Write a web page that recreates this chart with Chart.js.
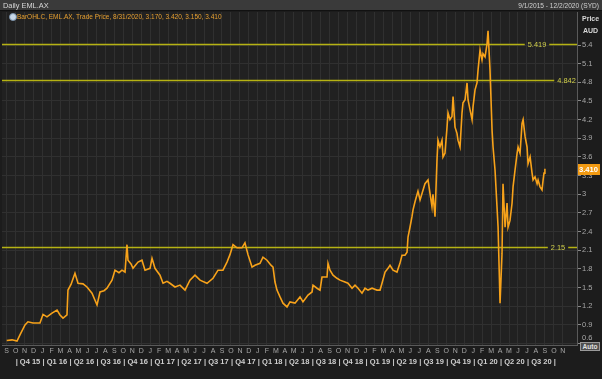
<!DOCTYPE html>
<html><head><meta charset="utf-8">
<script src="https://cdn.jsdelivr.net/npm/chart.js@4/dist/chart.umd.min.js"></script>
<style>
html,body{margin:0;padding:0;background:#1c1c1c;overflow:hidden}
#wrap{position:relative;width:602px;height:379px;font-family:"Liberation Sans",Arial,sans-serif}
#c{position:absolute;left:0;top:0}
#hdr{position:absolute;left:0;top:0;width:602px;height:11px;background:#3a3a3a;border-bottom:1px solid #111;box-sizing:border-box}
#title{position:absolute;left:3px;top:0;font-size:7.4px;line-height:11px;color:#d8d8d8}
#range{position:absolute;right:3px;top:0;font-size:6.6px;line-height:11px;color:#d0d0d0}
#legend{position:absolute;left:17px;top:12px;font-size:6.5px;line-height:10px;color:#e8a030;white-space:nowrap}
#icon{position:absolute;left:9px;top:13px;width:6px;height:6px;border-radius:50%;background:#c8d8e8;border:1px solid #7890a8}
#price{position:absolute;left:582px;top:14px;font-size:7px;font-weight:bold;color:#d8d8d8;line-height:9px}
#aud{position:absolute;left:583px;top:26px;font-size:7px;font-weight:bold;color:#d8d8d8;line-height:9px}
#auto{position:absolute;left:580px;top:342px;width:20px;height:9px;background:#505050;border:1px solid #9a9a9a;box-sizing:border-box;font-size:6.6px;font-weight:bold;color:#e0e0e0;line-height:7px;text-align:center}
</style></head>
<body>
<div id="wrap">
<canvas id="c" width="602" height="379"></canvas>
<div id="hdr"></div>
<div id="title">Daily EML.AX</div>
<div id="range">9/1/2015 - 12/2/2020 (SYD)</div>
<div id="icon"></div>
<div id="legend">BarOHLC, EML.AX, Trade Price, 8/31/2020, 3.170, 3.420, 3.150, 3.410</div>
<div id="price">Price</div>
<div id="aud">AUD</div>
<div id="auto">Auto</div>
</div>
<script>
// months elapsed since 1 Sep 2015
const months = [
 0,0.59,1.15,1.48,2.04,2.37,2.93,3.71,4.05,4.49,5.05,5.61,5.94,6.28,6.72,6.83,7.17,7.61,7.95,8.51,
 8.95,9.51,10.07,10.40,10.85,11.18,11.74,12.07,12.52,12.85,13.19,13.41,13.52,13.86,14.08,14.64,15.08,15.42,15.98,16.20,
 16.53,17.09,17.43,17.87,18.20,18.76,19.32,19.88,20.43,20.99,21.55,22.33,23.00,23.56,24.11,24.56,24.89,25.23,25.67,26.23,
 26.56,26.90,27.35,27.68,28.24,28.57,29.02,29.46,29.69,29.91,30.13,30.47,30.80,31.25,31.58,32.14,32.70,33.03,33.59,34.04,
 34.15,34.59,34.93,35.15,35.71,35.82,36.04,36.38,36.82,37.16,37.71,38.05,38.50,38.83,39.17,39.61,39.95,40.28,40.73,41.28,
 41.62,41.84,42.18,42.51,42.73,43.07,43.51,43.84,44.07,44.40,44.63,44.74,44.96,45.18,45.30,45.52,45.85,46.08,46.63,46.97,
 47.41,47.52,47.75,47.97,48.08,48.30,48.53,48.64,48.86,49.09,49.20,49.42,49.64,49.76,49.98,50.20,50.31,50.54,50.76,50.87,
 51.10,51.32,51.43,51.65,51.88,51.99,52.21,52.43,52.55,52.77,52.99,53.10,53.33,53.55,53.66,53.88,54.11,54.22,54.44,54.66,
 54.78,55.00,55.22,55.33,55.56,55.78,55.89,56.11,56.34,56.45,56.67,56.90,57.01,57.23,57.45,57.57,57.79,58.01,58.12,58.35,
 58.57,58.68,58.90,59.13,59.24,59.46,59.68,59.80,59.90,60.00
];
// EML.AX trade price (AUD)
const closes = [
 0.65,0.66,0.64,0.74,0.90,0.95,0.93,0.93,1.07,1.03,1.09,1.14,1.06,1.01,1.06,1.46,1.55,1.73,1.57,1.56,
 1.51,1.41,1.22,1.43,1.45,1.49,1.62,1.78,1.74,1.78,1.75,2.19,1.94,1.88,1.81,1.91,1.94,1.78,1.81,1.97,
 1.81,1.70,1.57,1.60,1.57,1.51,1.54,1.46,1.62,1.70,1.62,1.57,1.65,1.78,1.78,1.91,2.03,2.19,2.14,2.14,
 2.22,2.03,1.83,1.86,1.89,1.99,1.94,1.86,1.83,1.59,1.46,1.35,1.25,1.19,1.27,1.25,1.35,1.27,1.38,1.43,
 1.54,1.49,1.46,1.67,1.67,1.89,1.78,1.70,1.65,1.62,1.59,1.57,1.49,1.54,1.49,1.41,1.49,1.46,1.49,1.46,
 1.46,1.57,1.75,1.81,1.86,1.78,1.75,1.89,2.02,2.02,2.07,2.31,2.47,2.64,2.75,2.88,3.05,2.91,3.17,3.23,
 2.80,3.00,2.64,3.55,3.87,3.76,3.87,3.60,3.66,4.08,4.31,4.20,4.25,4.57,4.08,3.98,3.87,3.76,4.31,4.47,
 4.52,4.79,4.52,4.36,4.20,4.41,4.68,4.79,5.00,5.32,5.16,5.26,5.21,5.42,5.63,5.00,4.03,3.76,3.39,2.80,
 2.47,1.25,2.05,3.17,2.47,2.86,2.47,2.58,2.86,3.12,3.39,3.66,3.76,3.66,4.14,4.20,3.93,3.76,3.49,3.60,
 3.34,3.23,3.28,3.17,3.23,3.12,3.07,3.23,3.34,3.41
];
const monthTickLabels = ['S','O','N','D','J','F','M','A','M','J','J','A','S','O','N','D','J','F','M','A','M','J','J','A','S','O','N','D','J','F','M','A','M','J','J','A','S','O','N','D','J','F','M','A','M','J','J','A','S','O','N','D','J','F','M','A','M','J','J','A','S','O','N'];
const quarterLabels = ['Q4 15','Q1 16','Q2 16','Q3 16','Q4 16','Q1 17','Q2 17','Q3 17','Q4 17','Q1 18','Q2 18','Q3 18','Q4 18','Q1 19','Q2 19','Q3 19','Q4 19','Q1 20','Q2 20','Q3 20'];
const priceTicks = [0.6,0.9,1.2,1.5,1.8,2.1,2.4,2.7,3.0,3.3,3.6,3.9,4.2,4.5,4.8,5.1,5.4];
const refLevels = [5.419, 4.842, 2.15];
const refLabels = ['5.419', '4.842', '2.15'];
const lastClose = 3.410;

const FONT = '"Liberation Sans", Arial, sans-serif';
const refPlugin = {
  id: 'refs',
  beforeDraw(chart) {
    const {ctx, chartArea: a} = chart;
    ctx.save();
    ctx.fillStyle = '#212121';
    ctx.fillRect(a.left, a.top, a.right - a.left, a.bottom - a.top);
    ctx.restore();
  },
  beforeDatasetsDraw(chart) {
    const {ctx, chartArea: a, scales} = chart;
    const y = scales.y;
    const labelCenters = [a.right - 40, a.right - 10.5, a.right - 19];
    const rightLine = [true, false, true];
    ctx.save();
    ctx.font = '7.4px ' + FONT;
    ctx.textAlign = 'center';
    ctx.textBaseline = 'middle';
    refLevels.forEach((v, i) => {
      const py = Math.round(y.getPixelForValue(v)) + 0.5;
      const txt = refLabels[i];
      const w = ctx.measureText(txt).width;
      const cx = labelCenters[i];
      ctx.strokeStyle = 'rgba(190,186,20,0.95)';
      ctx.lineWidth = 1.5;
      ctx.beginPath();
      ctx.moveTo(a.left, py); ctx.lineTo(cx - w / 2 - 3, py);
      if (rightLine[i]) { ctx.moveTo(cx + w / 2 + 3, py); ctx.lineTo(a.right, py); }
      ctx.stroke();
      ctx.fillStyle = '#d2d04a';
      ctx.fillText(txt, cx, py);
    });
    ctx.restore();
  },
  afterDraw(chart) {
    const {ctx, chartArea: a, scales} = chart;
    // bottom-most price label sits slightly raised above its grid line
    const s = scales.y;
    const low = priceTicks[0];
    ctx.save();
    ctx.fillStyle = '#a8a8a8';
    ctx.font = '7.5px ' + FONT;
    ctx.textAlign = 'left';
    ctx.textBaseline = 'middle';
    ctx.fillText(String(low), a.right + 5, s.getPixelForValue(low) - 6);
    const py = s.getPixelForValue(lastClose);
    ctx.fillStyle = '#f29a12';
    ctx.fillRect(a.right + 1, Math.round(py) - 5, 22, 11);
    ctx.fillStyle = '#ffffff';
    ctx.font = 'bold 7.6px ' + FONT;
    ctx.fillText(lastClose.toFixed(3), a.right + 2, Math.round(py) + 0.5);
    ctx.restore();
  }
};

const PX0 = 6.7, PXM = 8.97; // pixel of Sep 2015 and pixels per month in reference
new Chart(document.getElementById('c'), {
  type: 'line',
  data: {
    datasets: [{
      data: months.map((m, i) => ({x: m, y: closes[i]})),
      borderColor: '#f7a21a',
      borderWidth: 1.6,
      pointRadius: 0,
      tension: 0,
      xAxisID: 'x',
      yAxisID: 'y'
    }]
  },
  options: {
    responsive: false,
    animation: false,
    events: [],
    layout: {padding: {left: 2, top: 12, right: 0, bottom: 12}},
    plugins: {legend: {display: false}, tooltip: {enabled: false}},
    scales: {
      x: {
        type: 'linear', position: 'bottom', weight: 0,
        min: (2 - PX0) / PXM, max: (577 - PX0) / PXM,
        afterBuildTicks: s => { s.ticks = monthTickLabels.map((_, i) => ({value: i})); },
        afterFit: s => { s.height = 10; },
        grid: {color: '#303030', drawTicks: false, lineWidth: 1},
        border: {color: '#5a5a5a'},
        ticks: {
          autoSkip: false, maxRotation: 0, minRotation: 0, padding: 2,
          color: '#a8a8a8', font: {size: 7, family: FONT},
          callback: (v, i) => monthTickLabels[i]
        }
      },
      xq: {
        type: 'linear', position: 'bottom', weight: 1,
        min: (2 - PX0) / PXM, max: (577 - PX0) / PXM,
        afterBuildTicks: s => {
          const t = quarterLabels.map((_, i) => ({value: 1 + 3 * i}));
          t.push({value: 1 + 3 * quarterLabels.length});
          s.ticks = t;
        },
        afterFit: s => { s.height = 12; },
        grid: {display: false, drawTicks: false},
        border: {display: false},
        ticks: {
          autoSkip: false, maxRotation: 0, minRotation: 0, padding: 2, align: 'start',
          color: '#cfcfcf', font: {size: 7.5, weight: 'bold', family: FONT},
          callback: (v, i) => i < quarterLabels.length ? '| ' + quarterLabels[i] : '|'
        }
      },
      y: {
        type: 'linear', position: 'right',
        min: 3 - (345 - 194.3) / 62.2, max: 3 + (194.3 - 12) / 62.2,
        afterBuildTicks: s => { s.ticks = priceTicks.map(v => ({value: v})); },
        afterFit: s => { s.width = 25; },
        grid: {color: '#303030', tickColor: '#8a8a8a', tickLength: 4},
        border: {color: '#5a5a5a'},
        ticks: {
          padding: 1, color: '#a8a8a8',
          font: {size: 7.5, family: FONT},
          callback: v => (v === priceTicks[0] ? '' : String(v))
        }
      }
    }
  },
  plugins: [refPlugin]
});
</script>
</body></html>
